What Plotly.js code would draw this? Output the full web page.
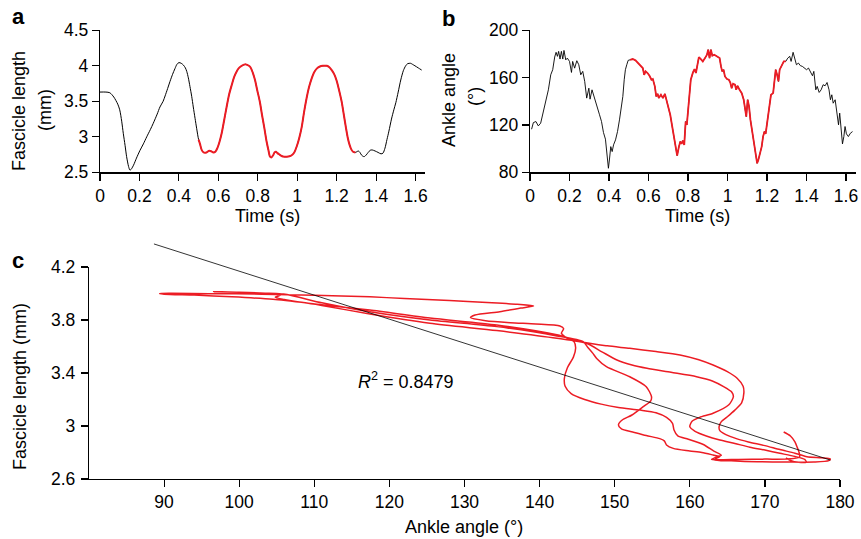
<!DOCTYPE html>
<html>
<head>
<meta charset="utf-8">
<script src="https://cdn.plot.ly/plotly-3.0.1.min.js"></script>
<style>html,body{margin:0;padding:0;background:#fff}#chart{width:861px;height:539px}</style>
</head>
<body>
<div id="chart"></div>
<script>
// ---------- Panel a: fascicle length vs time ----------
const timeA = [0,0.03,0.05,0.07,0.09,0.10,0.11,0.118,0.127,0.135,0.145,0.152,0.16,0.17,0.185,0.203,0.22,0.237,0.255,0.27,0.29,0.304,0.32,0.33,0.343,0.355,0.368,0.38,0.39,0.40,0.412,0.423,0.433,0.44,0.448,0.456,0.465,0.473,0.482,0.49,0.5,0.507,0.515,0.525,0.54,0.554,0.565,0.575,0.585,0.595,0.605,0.617,0.63,0.642,0.655,0.668,0.68,0.693,0.705,0.718,0.74,0.755,0.765,0.775,0.786,0.797,0.81,0.822,0.833,0.845,0.855,0.862,0.87,0.878,0.885,0.892,0.9,0.91,0.921,0.935,0.947,0.96,0.972,0.985,0.997,1.01,1.023,1.035,1.048,1.06,1.073,1.086,1.099,1.115,1.13,1.15,1.163,1.175,1.188,1.2,1.212,1.225,1.237,1.247,1.256,1.264,1.273,1.283,1.295,1.31,1.318,1.327,1.339,1.35,1.36,1.37,1.38,1.395,1.41,1.425,1.435,1.445,1.455,1.465,1.478,1.49,1.5,1.512,1.525,1.538,1.55,1.56,1.575,1.585,1.597,1.614,1.631];
const lengthA = [3.63,3.63,3.62,3.56,3.46,3.38,3.22,3.05,2.88,2.72,2.58,2.53,2.55,2.6,2.7,2.81,2.9,3.0,3.1,3.19,3.32,3.42,3.5,3.575,3.68,3.78,3.88,3.96,4.02,4.045,4.035,4.01,3.97,3.92,3.83,3.71,3.57,3.42,3.26,3.12,2.96,2.9,2.82,2.78,2.78,2.805,2.795,2.78,2.79,2.84,2.92,3.05,3.24,3.42,3.6,3.73,3.84,3.92,3.97,4.0,4.02,4.0,3.97,3.9,3.8,3.66,3.5,3.3,3.13,2.93,2.8,2.72,2.71,2.74,2.78,2.79,2.77,2.75,2.73,2.72,2.72,2.725,2.74,2.78,2.86,2.98,3.14,3.35,3.55,3.7,3.82,3.91,3.96,3.99,4.0,4.0,3.98,3.94,3.88,3.79,3.66,3.5,3.3,3.13,2.99,2.9,2.83,2.79,2.78,2.8,2.78,2.74,2.72,2.745,2.78,2.81,2.815,2.8,2.78,2.76,2.77,2.84,2.96,3.08,3.25,3.38,3.48,3.63,3.8,3.93,4.0,4.03,4.035,4.02,4.0,3.97,3.94];

// ---------- Panel b: ankle angle vs time ----------
const timeB = [0.008,0.017,0.03,0.042,0.054,0.068,0.081,0.093,0.105,0.115,0.125,0.132,0.139,0.145,0.152,0.159,0.166,0.172,0.181,0.189,0.2,0.21,0.216,0.226,0.237,0.247,0.257,0.267,0.277,0.287,0.298,0.304,0.314,0.325,0.338,0.352,0.362,0.372,0.382,0.392,0.397,0.402,0.409,0.416,0.423,0.433,0.443,0.453,0.463,0.47,0.477,0.483,0.49,0.497,0.507,0.52,0.534,0.548,0.561,0.571,0.578,0.585,0.595,0.605,0.615,0.622,0.632,0.639,0.646,0.652,0.663,0.673,0.683,0.69,0.7,0.71,0.72,0.73,0.737,0.745,0.754,0.761,0.767,0.774,0.781,0.788,0.794,0.804,0.814,0.825,0.833,0.84,0.849,0.855,0.865,0.875,0.886,0.896,0.902,0.909,0.916,0.923,0.933,0.943,0.953,0.96,0.967,0.973,0.98,0.987,0.997,1.007,1.014,1.021,1.028,1.038,1.044,1.051,1.061,1.072,1.082,1.089,1.095,1.102,1.109,1.116,1.126,1.133,1.141,1.15,1.156,1.163,1.173,1.18,1.187,1.193,1.2,1.21,1.22,1.231,1.237,1.244,1.251,1.258,1.264,1.271,1.278,1.285,1.295,1.305,1.315,1.322,1.332,1.339,1.349,1.359,1.369,1.379,1.389,1.4,1.41,1.42,1.43,1.437,1.447,1.454,1.464,1.474,1.484,1.494,1.504,1.514,1.521,1.528,1.535,1.545,1.555,1.562,1.568,1.575,1.582,1.589,1.595,1.602,1.612,1.622,1.633];
const angleB = [116.4,122,122.9,119.2,121.5,131.4,141.3,149.7,162.4,166.7,177.4,181.4,178,182.2,175.7,182.2,175.7,183,175,176.5,173.7,164.4,173.7,168,174.3,170.9,162.4,165.3,156.8,142.7,151.1,141.8,149.7,144.1,137,128.6,122.9,113.6,108,93.3,83.4,90.4,101.7,97.5,103.2,107.4,114.4,124.3,135.6,144.1,158.2,166.7,170.9,174.6,175.1,175.7,174.6,172.3,170.1,168.1,162.4,165.3,163.9,161.6,158.2,158.8,152.6,144.1,146.3,142.7,145.5,142.7,146.3,141.3,135.6,128.6,118.7,107.4,100.3,94.1,101.7,106,104,106.8,103.2,122.9,120.1,141.3,158.2,164.4,167.2,163.9,172.3,177.4,175.7,173.7,176.5,179.4,183.6,176.5,183.6,178.5,179.4,178.5,177.4,176.5,169.5,165.3,166.7,161,158.8,158.2,155.9,151.1,154.8,154,149.7,153.1,149.7,146.9,141.3,132.8,127.1,141.3,135.6,124.3,113,104.6,94.7,87.6,90.4,94.7,101.7,110.2,114.4,112.5,121.5,132.8,145.5,146.9,158.2,166.7,162.4,156.8,166.7,169.5,172.3,173.7,173.7,176.5,178,173.7,181.4,176.5,170.9,172.3,170.1,169.5,168.1,166.7,168.1,165.3,161.6,165.3,149.7,152.6,147.5,149.7,154,153.1,155.9,149.7,141.3,145.5,138.4,141.3,128.6,120.1,130,114.4,104,110.2,118.7,112.5,110.2,113,114.4];

// highlighted (red) time window in panels a and b
const redWindow = [0.5, 1.295];

// ---------- Panel c: fascicle length vs ankle angle (red window) ----------
const angleC = [172.5,173.4,174.0,174.3,174.6,174.6,173.5,170,166.5,163.8,162.9,163.4,164.2,
163.2,161.8,159.8,158.4,157.9,157.7,156.9,155.5,153.4,150.5,148.2,146,144.2,143.4,143.3,143.7,144.5,144.8,144.6,143.6,142.9,143.2,142.7,139.5,136.1,132.8,130.8,131.4,134.7,137.5,139.2,137,133,128,122,117.4,110,103,96,91,89.4,
90,94,99,104.5,111,117.4,125.4,134.3,142.3,146.0,149,152.0,155.5,158.7,161.2,163.1,165,166.3,167.1,167.2,166.9,166,165,164.2,163.9,164,164.8,166.2,167.8,170,172,174,175.6,177.5,178.7,178.5,176.5,
173,169,165.5,163.3,163.6,164.0,
163.1,161.6,160,157.8,156.9,156.6,156.0,154.2,152.4,150.9,150.5,151.0,152.3,153.8,154.8,154.9,154.2,152.0,148.9,147.6,147.1,146.4,145.8,142.3,134.3,125.4,117.4,111,105.9,101,96.6,
100,104.3,105.6,104.8,106,111,117.4,125.4,134.3,142.3,146.3,148.3,150.3,152.3,154.3,157.5,160.9,163,164.5,165.6,165.8,165.2,163.1,161.3,160.3,160.0,160.7,162.2,164.0,166,168,170,172,174,175.3,175.5,174.5,173.4,172.8];
const lengthC = [2.955,2.925,2.88,2.84,2.79,2.765,2.752,2.75,2.748,2.745,2.748,2.762,2.78,
2.81,2.86,2.9,2.925,2.97,3.02,3.065,3.1,3.12,3.14,3.165,3.2,3.245,3.3,3.36,3.44,3.52,3.59,3.635,3.665,3.70,3.735,3.755,3.77,3.78,3.795,3.818,3.838,3.863,3.89,3.906,3.918,3.932,3.948,3.962,3.975,3.986,3.995,3.999,4.001,4.0,
3.995,3.988,3.975,3.956,3.915,3.875,3.815,3.762,3.688,3.63,3.605,3.586,3.562,3.536,3.5,3.46,3.41,3.36,3.30,3.25,3.175,3.12,3.07,3.033,2.995,2.965,2.935,2.905,2.88,2.852,2.822,2.795,2.768,2.76,2.752,2.738,2.728,
2.728,2.73,2.737,2.744,2.758,2.769,
2.781,2.8,2.812,2.831,2.857,2.888,2.905,2.928,2.955,2.978,3.008,3.045,3.083,3.146,3.19,3.221,3.297,3.372,3.448,3.51,3.548,3.595,3.636,3.68,3.75,3.8,3.862,3.93,3.996,4.008,4.014,
4.01,4.0,3.99,3.972,3.955,3.91,3.845,3.775,3.72,3.662,3.622,3.56,3.498,3.46,3.435,3.405,3.372,3.34,3.297,3.255,3.221,3.16,3.096,3.065,3.035,2.995,2.96,2.925,2.894,2.868,2.84,2.818,2.794,2.77,2.748,2.728,2.726,2.74,2.76];

// linear fit (fascicle length = intercept + slope * angle)
const fitSlope = -0.01811;
const fitIntercept = 5.9795;
const fitAngleSpan = [88.65, 178.7];
const r2Value = '0.8479';

const ticksTime = [0,0.2,0.4,0.6,0.8,1,1.2,1.4,1.6];
const ticksLenA = [2.5,3,3.5,4,4.5];
const ticksAngB = [80,120,160,200];
const ticksAngC = [90,100,110,120,130,140,150,160,170,180];
const ticksLenC = [2.6,3,3.4,3.8,4.2];

// ---------- build ----------
const W = 861, H = 539;
const fx = p => p / W;
const fy = p => 1 - p / H;
const RED = '#ec1c24';

function inWin(t){ return t >= redWindow[0] && t <= redWindow[1]; }
const redA = timeA.map((t,i)=>[t,lengthA[i]]).filter(d=>inWin(d[0]));
const redB = timeB.map((t,i)=>[t,angleB[i]]).filter(d=>inWin(d[0]));
const fitY = fitAngleSpan.map(a => fitIntercept + fitSlope * a);

const traces = [
  {x: timeA, y: lengthA, xaxis:'x', yaxis:'y', mode:'lines', line:{color:'#000', width:1, shape:'spline', smoothing:0.8}, hoverinfo:'skip'},
  {x: redA.map(d=>d[0]), y: redA.map(d=>d[1]), xaxis:'x', yaxis:'y', mode:'lines', line:{color:RED, width:2, shape:'spline', smoothing:0.8}, hoverinfo:'skip'},
  {x: timeB, y: angleB, xaxis:'x2', yaxis:'y2', mode:'lines', line:{color:'#000', width:0.9}, hoverinfo:'skip'},
  {x: redB.map(d=>d[0]), y: redB.map(d=>d[1]), xaxis:'x2', yaxis:'y2', mode:'lines', line:{color:RED, width:1.8}, hoverinfo:'skip'},
  {x: angleC, y: lengthC, xaxis:'x3', yaxis:'y3', mode:'lines', line:{color:RED, width:1.5, shape:'spline', smoothing:0.7}, hoverinfo:'skip'},
  {x: fitAngleSpan, y: fitY, xaxis:'x4', yaxis:'y4', mode:'lines', line:{color:'#000', width:0.8}, hoverinfo:'skip'}
];

const ax = (extra) => Object.assign({
  showline:true, linecolor:'#000', linewidth:1.2, ticks:'outside', ticklen:7, tickwidth:1.2, tickcolor:'#000',
  showgrid:false, zeroline:false, tickfont:{size:17.5, color:'#000'}, fixedrange:true, tickmode:'array'
}, extra);

const yA = [fy(172.3), fy(30.3)];
const layout = {
  width: W, height: H, margin:{l:0,r:0,t:0,b:0}, showlegend:false,
  paper_bgcolor:'#fff', plot_bgcolor:'rgba(0,0,0,0)',
  font:{family:'"Liberation Sans", Arial, sans-serif', color:'#000'},
  xaxis: ax({domain:[fx(100), fx(425.4)], range:[0,1.65], anchor:'y', tickvals: ticksTime}),
  yaxis: ax({domain:yA, range:[2.5,4.5], anchor:'x', tickvals: ticksLenA}),
  xaxis2: ax({domain:[fx(530), fx(855.9)], range:[0,1.65], anchor:'y2', tickvals: ticksTime}),
  yaxis2: ax({domain:yA, range:[80,200], anchor:'x2', tickvals: ticksAngB}),
  xaxis3: ax({domain:[fx(89), fx(840)], range:[80,180], anchor:'y3', tickvals: ticksAngC}),
  yaxis3: ax({domain:[fy(479), fy(267)], range:[2.6,4.2], anchor:'x3', tickvals: ticksLenC, ticklabelstandoff:2}),
  xaxis4: {domain:[fx(89), fx(840)], range:[80,180], anchor:'y4', visible:false, fixedrange:true},
  yaxis4: {domain:[fy(479), fy(240.5)], range:[2.6,4.4], anchor:'x4', visible:false, fixedrange:true},
  annotations: [
    {text:'<b>a</b>', x:fx(18), y:fy(17), font:{size:22}},
    {text:'<b>b</b>', x:fx(448), y:fy(18), font:{size:22}},
    {text:'<b>c</b>', x:fx(18), y:fy(260), font:{size:22}},
    {text:'Fascicle length', x:fx(19), y:fy(111), textangle:-90, font:{size:18}},
    {text:'(mm)', x:fx(45), y:fy(110), textangle:-90, font:{size:18}},
    {text:'Time (s)', x:fx(267), y:fy(216), font:{size:18}},
    {text:'Ankle angle', x:fx(449), y:fy(100), textangle:-90, font:{size:18}},
    {text:'(°)', x:fx(475), y:fy(97), textangle:-90, font:{size:18}},
    {text:'Time (s)', x:fx(697), y:fy(216), font:{size:18}},
    {text:'Fascicle length (mm)', x:fx(20), y:fy(387), textangle:-90, font:{size:18}},
    {text:'Ankle angle (°)', x:fx(464), y:fy(527), font:{size:18}},
    {text:'<i>R</i><sup>2</sup> = ' + r2Value, x:fx(356), y:fy(380), xanchor:'left', font:{size:18}}
  ].map(a => Object.assign({xref:'paper', yref:'paper', showarrow:false, xanchor:'center', yanchor:'middle'}, a))
};

Plotly.newPlot('chart', traces, layout, {displayModeBar:false, staticPlot:true});
</script>
</body>
</html>
